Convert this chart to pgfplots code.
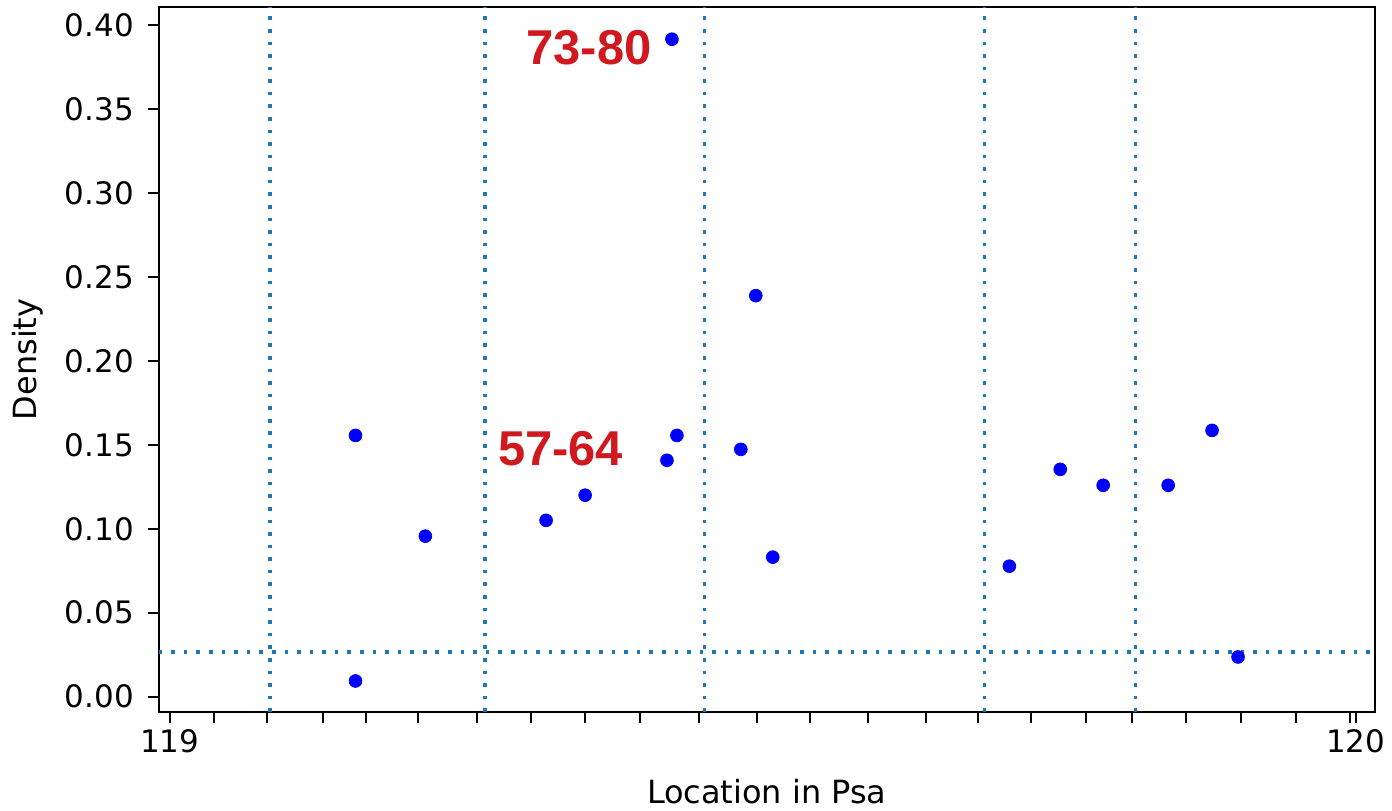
\documentclass[border=0pt]{standalone}
\usepackage{pgfplots}
\pgfplotsset{compat=1.18}
\usepackage{fontspec}
\setmainfont{DejaVu Sans}
\newfontfamily\annfont{Liberation Sans}
\definecolor{tabblue}{HTML}{1F77B4}
\definecolor{annred}{HTML}{D0191F}
\begin{document}
\begin{tikzpicture}
\begin{axis}[
  scale only axis,
  width=609pt, height=353pt,
  xmin=118.9907, xmax=120.016,
  ymin=-0.0091, ymax=0.4109,
  axis line style={line width=1pt},
  tick style={line width=1pt, black},
  tick align=outside,
  tick pos=left,
  major tick length=5.5pt,
  minor tick length=5.5pt,
  xtick={119,120},
  xticklabels={119,120},
  minor xtick={119.0370,119.0816,119.1288,119.1658,119.2096,119.2593,119.3047,119.3502,119.3965,119.4461,119.4949,119.5396,119.5884,119.6372,119.6818,119.7264,119.7727,119.8114,119.8569,119.9032,119.9495,119.9949},
  ytick={0,0.05,0.10,0.15,0.20,0.25,0.30,0.35,0.40},
  y tick label style={/pgf/number format/fixed, /pgf/number format/fixed zerofill, /pgf/number format/precision=2},
  /pgf/number format/assume math mode=true,
  ticklabel style={font=\fontsize{15.5}{18}\selectfont},
  yticklabel style={xshift=-3.5pt},
  xlabel={Location in Psa},
  ylabel={Density},
  label style={font=\fontsize{16}{19}\selectfont},
  xlabel style={at={(axis description cs:0.5,-0.1133)}, anchor=center},
  ylabel style={at={(axis description cs:-0.1075,0.5)}, anchor=center},
]
\addplot[tabblue, line width=1.8pt, dash pattern=on 1.8pt off 4.5pt] coordinates {(119.0847,-0.0091) (119.0847,0.4109)};
\addplot[tabblue, line width=1.8pt, dash pattern=on 1.8pt off 4.5pt] coordinates {(119.2660,-0.0091) (119.2660,0.4109)};
\addplot[tabblue, line width=1.8pt, dash pattern=on 1.8pt off 4.5pt] coordinates {(119.4508,-0.0091) (119.4508,0.4109)};
\addplot[tabblue, line width=1.8pt, dash pattern=on 1.8pt off 4.5pt] coordinates {(119.6869,-0.0091) (119.6869,0.4109)};
\addplot[tabblue, line width=1.8pt, dash pattern=on 1.8pt off 4.5pt] coordinates {(119.8144,-0.0091) (119.8144,0.4109)};
\addplot[tabblue, line width=1.8pt, dash pattern=on 1.8pt off 4.5pt] coordinates {(118.9907,0.0266) (120.016,0.0266)};
\addplot[only marks, mark=*, mark size=3.2pt, mark options={draw=blue, fill=blue}] coordinates {
(119.1566, 0.1556)
(119.1566, 0.0093)
(119.2155, 0.0956)
(119.3173, 0.1050)
(119.3502, 0.1200)
(119.4192, 0.1408)
(119.4234, 0.3917)
(119.4276, 0.1556)
(119.4815, 0.1473)
(119.4941, 0.2389)
(119.5084, 0.0831)
(119.7079, 0.0777)
(119.7508, 0.1354)
(119.7870, 0.1259)
(119.8418, 0.1259)
(119.8788, 0.1586)
(119.9007, 0.0236)
};
\node[text=annred, font=\annfont\bfseries\fontsize{24.5}{28}\selectfont, anchor=center] at (axis cs:119.3535,0.3866) {73-80};
\node[text=annred, font=\annfont\bfseries\fontsize{24.5}{28}\selectfont, anchor=center] at (axis cs:119.3295,0.1479) {57-64};
\end{axis}
\useasboundingbox (-79.5pt,-48pt) rectangle (616.5pt,356.5pt);
\end{tikzpicture}
\end{document}
